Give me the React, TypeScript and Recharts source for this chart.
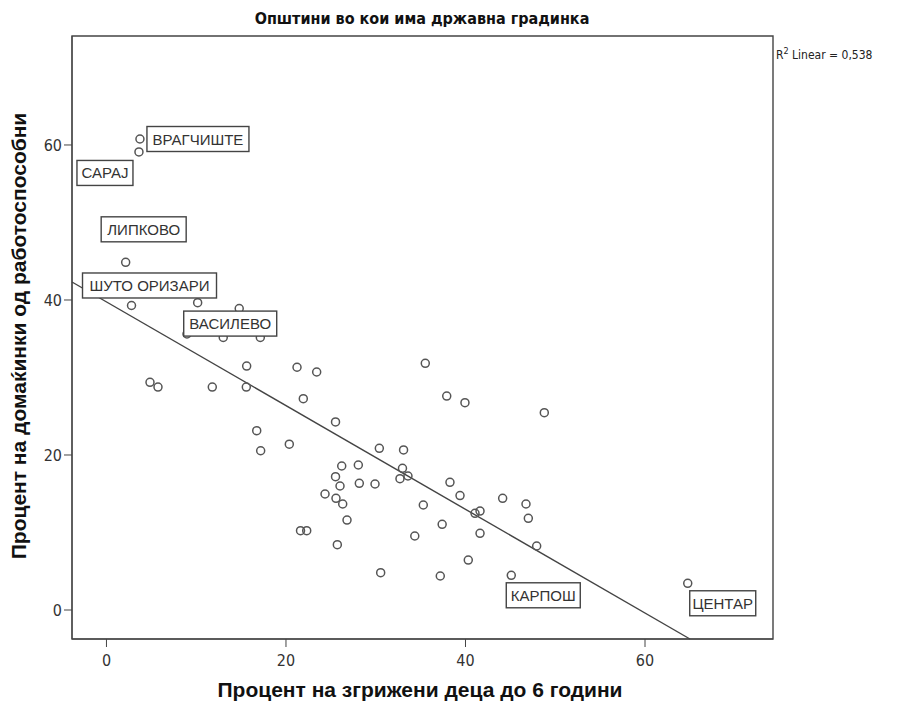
import React from 'react';
import { ScatterChart, Scatter, XAxis, YAxis, ReferenceLine, ReferenceArea } from 'recharts';

// процент на згрижени деца до 6 години (x) и процент на домаќинки (y)
const childcare = [
  3.73, 3.62, 2.14, 2.79, 10.16, 14.79, 13.01, 17.14, 8.97, 15.62,
  4.85, 5.74, 11.79, 15.58, 21.23, 23.42, 21.93, 25.52, 16.74, 20.37,
  17.18, 26.21, 25.52, 26.02, 24.35, 25.57, 26.32, 26.8, 21.62, 22.31,
  35.52, 37.91, 30.4, 33.1, 28.06, 28.17, 29.92, 32.98, 32.7, 33.59,
  35.3, 38.27, 39.39, 37.4, 34.35, 25.72, 30.55, 37.19, 39.94, 48.78,
  44.14, 46.74, 47.0, 41.06, 41.62, 41.62, 47.93, 40.31, 45.1, 64.76,
];
const housewives = [
  60.77, 59.1, 44.86, 39.29, 39.65, 38.89, 35.16, 35.16, 35.61, 31.48,
  29.38, 28.77, 28.77, 28.77, 31.32, 30.71, 27.26, 24.26, 23.14, 21.39,
  20.55, 18.58, 17.2, 16.0, 14.97, 14.41, 13.68, 11.61, 10.23, 10.23,
  31.83, 27.61, 20.86, 20.65, 18.71, 16.35, 16.26, 18.28, 16.94, 17.29,
  13.55, 16.48, 14.77, 11.06, 9.55, 8.43, 4.81, 4.39, 26.75, 25.46,
  14.41, 13.68, 11.83, 12.48, 12.77, 9.9, 8.26, 6.45, 4.48, 3.45,
];

const labelNames = ['ВРАГЧИШТЕ', 'САРАЈ', 'ЛИПКОВО', 'ШУТО ОРИЗАРИ', 'ВАСИЛЕВО', 'КАРПОШ', 'ЦЕНТАР'];
const labelIndex = [0, 1, 2, 3, 5, 58, 59];

const xTicks = [0, 20, 40, 60];
const yTicks = [0, 20, 40, 60];

const fitIntercept = 39.75;
const fitSlope = -0.669;
const rSquared = '0,538';

const X_MIN = -3.84;
const X_MAX = 74.26;
const Y_MIN = -3.74;
const Y_MAX = 74.06;

// where each label box sits relative to its point: dx, dy (box centre), w
const labelBox: Record<string, { dx: number; dy: number; w: number }> = {
  'ВРАГЧИШТЕ': { dx: 58, dy: 0, w: 102 },
  'САРАЈ': { dx: -34, dy: 21, w: 56 },
  'ЛИПКОВО': { dx: 18, dy: -33, w: 85 },
  'ШУТО ОРИЗАРИ': { dx: 18, dy: -20, w: 134 },
  'ВАСИЛЕВО': { dx: -9, dy: 15, w: 93 },
  'КАРПОШ': { dx: 32, dy: 20, w: 74 },
  'ЦЕНТАР': { dx: 35, dy: 20, w: 66 },
};

const ink = '#444';
const sans = "'Liberation Sans', Arial, sans-serif";
const narrow = "'Liberation Sans Narrow', 'Arial Narrow', 'DejaVu Sans Condensed', sans-serif";

const points = childcare.map((x, i) => ({ x, y: housewives[i] }));
const labelled = labelIndex.map((i, k) => ({ x: childcare[i], y: housewives[i], name: labelNames[k] }));

const fitSegment = [
  { x: X_MIN, y: fitIntercept + fitSlope * X_MIN },
  { x: (Y_MIN - fitIntercept) / fitSlope, y: Y_MIN },
];

const OpenCircle = (props: any) => {
  const { cx, cy } = props;
  return <circle cx={cx} cy={cy} r={4} fill="none" stroke="#555" strokeWidth={1.5} />;
};

const LabelBox = (props: any) => {
  const { cx, cy, payload } = props;
  const b = labelBox[payload.name];
  const h = 25;
  const bx = cx + b.dx;
  const by = cy + b.dy;
  return (
    <g>
      <rect x={bx - b.w / 2} y={by - h / 2} width={b.w} height={h} fill="#fff" stroke={ink} strokeWidth={1.4} />
      <text x={bx} y={by} textAnchor="middle" dominantBaseline="central" fontFamily={sans} fontSize={15} fill="#333">
        {payload.name}
      </text>
    </g>
  );
};

export default function App() {
  return (
    <div style={{ position: 'absolute', left: 0, top: 0, width: 901, height: 705, background: '#fff' }}>
      <ScatterChart width={901} height={705} margin={{ top: 36, right: 128, bottom: 36, left: 22 }}>
        <XAxis
          type="number"
          dataKey="x"
          domain={[X_MIN, X_MAX]}
          ticks={xTicks}
          allowDataOverflow
          height={30}
          tickSize={8}
          tickMargin={8}
          stroke={ink}
          tick={{ fill: '#333', fontSize: 16, fontFamily: narrow }}
        />
        <YAxis
          type="number"
          dataKey="y"
          domain={[Y_MIN, Y_MAX]}
          ticks={yTicks}
          allowDataOverflow
          width={50}
          tickSize={8}
          tickMargin={2}
          stroke={ink}
          tick={{ fill: '#333', fontSize: 16, fontFamily: narrow }}
        />
        <ReferenceArea x1={X_MIN} x2={X_MAX} y1={Y_MIN} y2={Y_MAX} fill="none" stroke={ink} strokeWidth={1.4} ifOverflow="visible" />
        <ReferenceLine segment={fitSegment} stroke={ink} strokeWidth={1.4} ifOverflow="visible" />
        <Scatter data={points} shape={<OpenCircle />} isAnimationActive={false} />
        <Scatter data={labelled} shape={<LabelBox />} isAnimationActive={false} />
      </ScatterChart>
      <svg width={901} height={705} style={{ position: 'absolute', left: 0, top: 0, pointerEvents: 'none' }}>
        <text x={422} y={24} textAnchor="middle" fontFamily={narrow} fontWeight="bold" fontSize={16} fill="#111">
          Општини во кои има државна градинка
        </text>
        <text x={776} y={59} fontFamily={narrow} fontSize={12} fill="#222">
          R<tspan dy={-5} fontSize={9}>2</tspan>
          <tspan dy={5}> Linear = {rSquared}</tspan>
        </text>
        <text x={420} y={697} textAnchor="middle" fontFamily={sans} fontWeight="bold" fontSize={21} fill="#111">
          Процент на згрижени деца до 6 години
        </text>
        <text
          transform="translate(26,336) rotate(-90)"
          textAnchor="middle"
          fontFamily={sans}
          fontWeight="bold"
          fontSize={21}
          fill="#111"
        >
          Процент на домаќинки од работоспособни
        </text>
      </svg>
    </div>
  );
}
